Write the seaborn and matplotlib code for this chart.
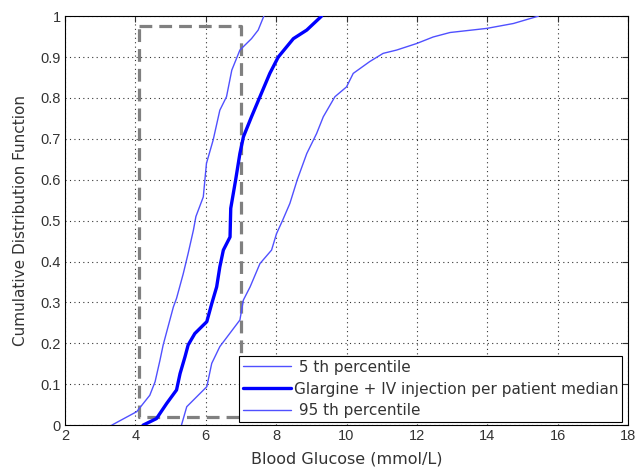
import matplotlib
matplotlib.use("Agg")
import matplotlib.pyplot as plt
import numpy as np
import pandas as pd
import seaborn as sns

# values
p5_glucose = [3.33, 4.04, 4.41, 4.56, 4.70, 4.79, 5.08, 5.17, 5.36, 5.50, 5.65, 5.72,
              5.93, 6.02, 6.21, 6.40, 6.59, 6.74, 6.97, 7.30, 7.49, 7.65]
p5_cdf = [0.0, 0.033, 0.073, 0.106, 0.159, 0.196, 0.289, 0.31, 0.37, 0.42, 0.477, 0.51,
          0.558, 0.64, 0.697, 0.77, 0.803, 0.868, 0.917, 0.945, 0.966, 1.0]

median_glucose = [4.22, 4.60, 4.89, 5.17, 5.27, 5.41, 5.50, 5.69, 6.03, 6.17, 6.31, 6.40,
                  6.50, 6.69, 6.71, 6.85, 6.97, 7.07, 7.30, 7.54, 7.82, 8.06, 8.49, 8.87, 9.29]
median_cdf = [0.0, 0.016, 0.053, 0.086, 0.126, 0.167, 0.196, 0.224, 0.253, 0.297, 0.338, 0.387,
              0.428, 0.46, 0.53, 0.60, 0.664, 0.705, 0.754, 0.803, 0.86, 0.90, 0.945, 0.966, 1.0]

p95_glucose = [5.31, 5.46, 6.03, 6.17, 6.40, 6.97, 7.07, 7.26, 7.54, 7.87, 8.01, 8.18,
               8.39, 8.60, 8.87, 9.15, 9.34, 9.67, 10.0, 10.19, 10.66, 11.04, 11.42,
               11.99, 12.46, 12.94, 13.98, 14.74, 15.45]
p95_cdf = [0.0, 0.045, 0.094, 0.151, 0.192, 0.257, 0.306, 0.338, 0.395, 0.428, 0.468, 0.50,
           0.542, 0.60, 0.664, 0.713, 0.754, 0.803, 0.827, 0.86, 0.889, 0.909, 0.917,
           0.933, 0.949, 0.96, 0.97, 0.982, 1.0]

# target region (dashed box)
box_glucose = [4.1, 7.0]
box_cdf = [0.02, 0.975]

labels = [" 5 th percentile", "Glargine + IV injection per patient median", " 95 th percentile"]
x_ticks = [2, 4, 6, 8, 10, 12, 14, 16, 18]
y_ticks = [0, 0.1, 0.2, 0.3, 0.4, 0.5, 0.6, 0.7, 0.8, 0.9, 1]
y_tick_labels = ["0", "0.1", "0.2", "0.3", "0.4", "0.5", "0.6", "0.7", "0.8", "0.9", "1"]

sns.set_style("white")
plt.rcParams["font.family"] = ["Liberation Sans", "DejaVu Sans"]

fig = plt.figure(figsize=(6.37, 4.75), dpi=100)
ax = fig.add_axes([0.102, 0.105, 0.884, 0.861])

bx = [box_glucose[0], box_glucose[1], box_glucose[1], box_glucose[0], box_glucose[0]]
by = [box_cdf[1], box_cdf[1], box_cdf[0], box_cdf[0], box_cdf[1]]
ax.plot(bx, by, color="#808080", lw=2.3, dashes=(4, 2.2), zorder=2)

thin_blue = "#5050ff"
sns.lineplot(x=p5_glucose, y=p5_cdf, ax=ax, sort=False, estimator=None,
             color=thin_blue, lw=1.0, label=labels[0], zorder=3)
sns.lineplot(x=median_glucose, y=median_cdf, ax=ax, sort=False, estimator=None,
             color="#0000ff", lw=2.4, label=labels[1], zorder=3)
sns.lineplot(x=p95_glucose, y=p95_cdf, ax=ax, sort=False, estimator=None,
             color=thin_blue, lw=1.0, label=labels[2], zorder=3)

ax.set_xlim(2, 18)
ax.set_ylim(0, 1)
ax.set_xticks(x_ticks)
ax.set_yticks(y_ticks)
ax.set_yticklabels(y_tick_labels)
ax.tick_params(direction="in", top=True, right=True, length=4, width=0.8,
               labelsize=10.5, colors="#333333", pad=3)
ax.grid(True, linestyle=(0, (1, 3)), color="black", lw=0.8, alpha=0.8)
for s in ax.spines.values():
    s.set_color("black")
    s.set_linewidth(0.8)

wide = ["DejaVu Sans"]
ax.set_xlabel("Blood Glucose (mmol/L)", fontsize=11.5, family=wide, color="#333333", labelpad=6)
ax.set_ylabel("Cumulative Distribution Function", fontsize=11, family=wide, color="#333333",
              labelpad=9)

leg = ax.legend(loc="lower right", bbox_to_anchor=(0.989, 0.007),
                prop={"family": wide, "size": 11},
                fancybox=False, framealpha=1, edgecolor="black", handlelength=3.1,
                borderpad=0.25, labelspacing=0.45, handletextpad=0.2, borderaxespad=0)
leg.get_frame().set_linewidth(0.8)
for t in leg.get_texts():
    t.set_color("#333333")

plt.savefig("out.png", dpi=100)
